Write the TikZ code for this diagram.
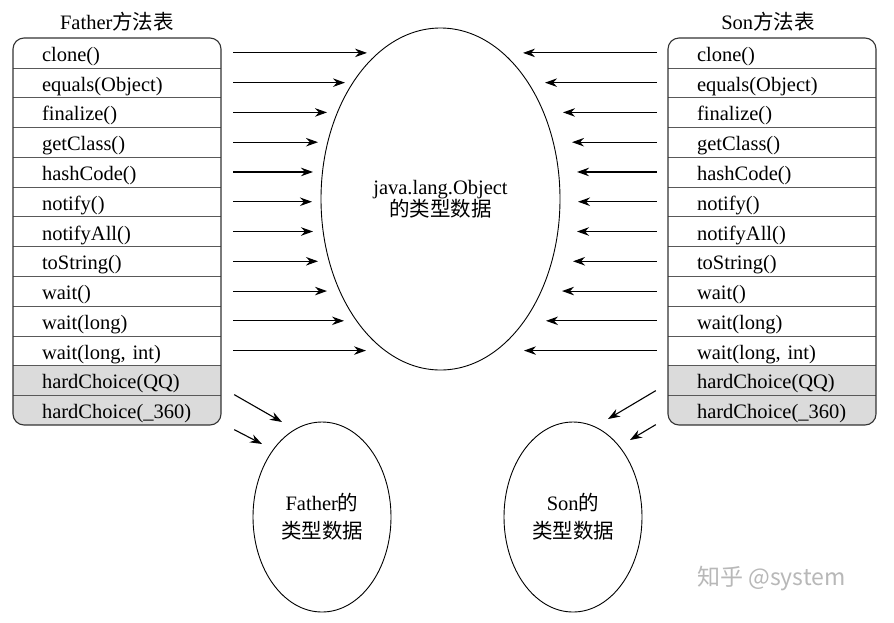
\documentclass[tikz,border=0pt]{standalone}
\usepackage{fontspec}
\setmainfont{Liberation Serif}
\newfontfamily\cjk{Noto Sans CJK SC}
\usetikzlibrary{arrows.meta,shapes.geometric}
\begin{document}
\begin{tikzpicture}[x=1pt,y=-1pt,
  font=\fontsize{20.5}{24}\selectfont,
  rowtext/.style={inner xsep=0pt, inner ysep=0pt, text width=208pt, align=left,
    text height=19pt, text depth=2pt, minimum height=29.77pt, anchor=center},
  sep/.style={draw=black!65, line width=0.8pt},
  border/.style={draw=black!80, line width=1.1pt, rounded corners=11pt},
  hard/.style={fill=black!14},
  arr/.style={-{Stealth[length=12pt,width=8.5pt]}, line width=1.1pt},
  blob/.style={draw, ellipse, line width=0.9pt, align=center, inner sep=0pt},
  title/.style={inner sep=0pt}]
\useasboundingbox (0,0) rectangle (894,622);
\fill[white] (0,0) rectangle (894,622);

% gray rows
\begin{scope}
  \clip[rounded corners=11pt] (13,38) rectangle (221,425);
  \fill[hard] (13,365.5) rectangle (221,425);
\end{scope}
\begin{scope}
  \clip[rounded corners=11pt] (668,38) rectangle (876,425);
  \fill[hard] (668,365.5) rectangle (876,425);
\end{scope}

% rows
\foreach \t [count=\i] in {{clone()},{equals(Object)},{finalize()},{getClass()},{hashCode()},{notify()},{notifyAll()},{toString()},{wait()},{wait(long)},{wait(long, int)},{hardChoice(QQ)},{hardChoice(\_360)}}{
  \node[rowtext] (L\i) at (117,{38+29.77*(\i-0.5)}) {\hspace*{29pt}\t};
  \node[rowtext] (R\i) at (772,{38+29.77*(\i-0.5)}) {\hspace*{29pt}\t};
}
\foreach \i in {1,...,12}{
  \draw[sep] (L\i.south west) -- (L\i.south east);
  \draw[sep] (R\i.south west) -- (R\i.south east);
}
\draw[border] (13,38) rectangle (221,425);
\draw[border] (668,38) rectangle (876,425);

% titles
\node[title] (ft) at (117,22) {Father{\cjk 方法表}};
\node[title] (st) at (768,22) {Son{\cjk 方法表}};

% ellipses
\node[blob, minimum width=239pt, minimum height=342pt, font=\fontsize{20.5}{22.5}\selectfont] (obj) at (440.5,199)
  {java.lang.Object\\{\cjk 的类型数据}};
\node[blob, minimum width=138pt, minimum height=190pt, font=\fontsize{20.5}{28}\selectfont] (fd) at (322,517)
  {Father{\cjk 的}\\{\cjk 类型数据}};
\node[blob, minimum width=138pt, minimum height=190pt, font=\fontsize{20.5}{28}\selectfont] (sd) at (573,517)
  {Son{\cjk 的}\\{\cjk 类型数据}};

% arrows to Object
\foreach \x [count=\i] in {367,345,327,318,313,312,313,318,327,344,366}{
  \coordinate (lt\i) at (\x,{38+29.77*(\i-0.5)});
  \draw[arr] ([xshift=12pt]L\i.east) -- (lt\i);
}
\foreach \x [count=\i] in {523,545,563,572,577,578,577,573,562,546,524}{
  \coordinate (rt\i) at (\x,{38+29.77*(\i-0.5)});
  \draw[arr] ([xshift=-11pt]R\i.west) -- (rt\i);
}

% arrows to own type data
\draw[arr] ([shift={(13,-15.5)}]L13.east) -- ([shift={(-40,-95)}]fd.center);
\draw[arr] ([shift={(13,19.5)}]L13.east) -- ([shift={(-60,-73)}]fd.center);
\draw[arr] ([shift={(-12,-19.5)}]R13.west) -- ([shift={(35,-98)}]sd.center);
\draw[arr] ([shift={(-12,14.5)}]R13.west) -- ([shift={(57,-77)}]sd.center);

% watermark
\node[text=black!28, font=\cjk\fontsize{23}{26}\selectfont, anchor=west, inner sep=0pt] (wm) at (697,579) {知乎 @system};
\end{tikzpicture}
\end{document}
